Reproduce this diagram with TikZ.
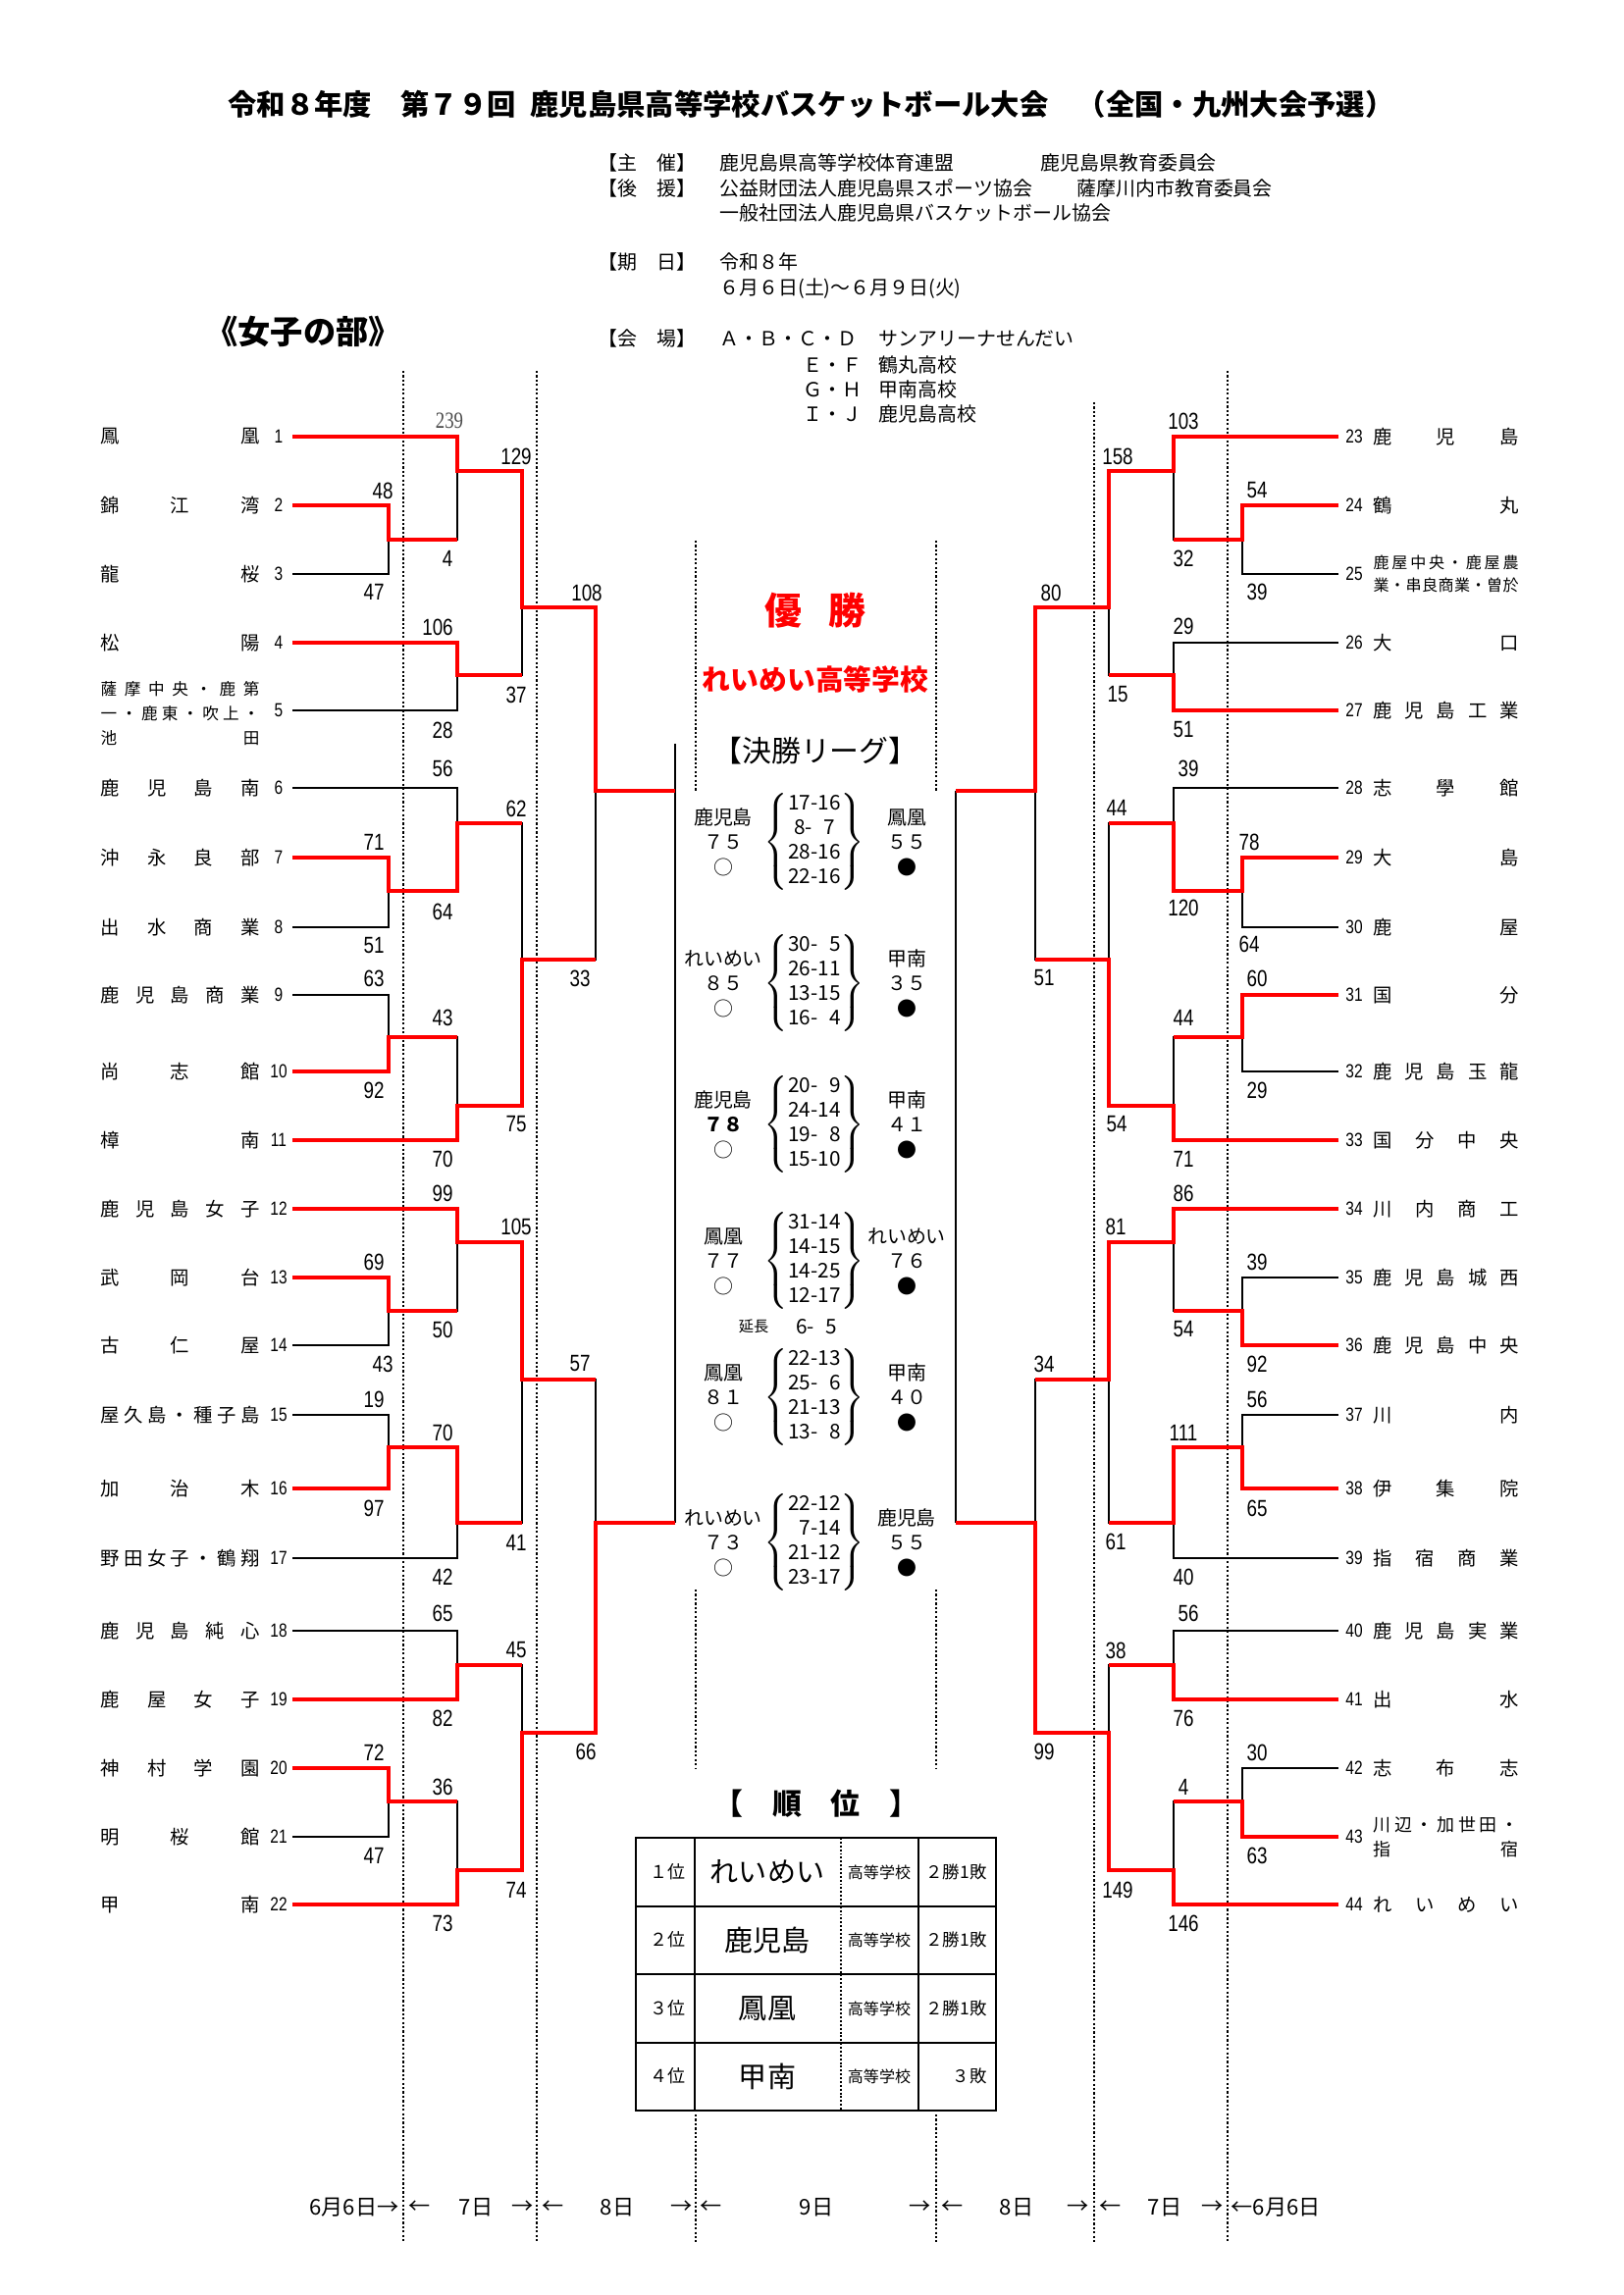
\documentclass[tikz,border=0pt]{standalone}
\usepackage{fontspec}
\setmainfont{Noto Sans CJK JP}
\newfontfamily\narrowfont[FakeStretch=0.8]{Liberation Sans}
\newfontfamily\narrowserif[FakeStretch=0.8]{Liberation Serif}
\newlength\pxu
\setlength\pxu{0.127mm}
% spread the characters of a name over its box
\makeatletter
\def\sprd#1{\expandafter\sprd@a#1\relax}
\def\sprd@a#1{#1\sprd@b}
\def\sprd@b#1{\ifx\relax#1\else\hfill#1\expandafter\sprd@b\fi}
\makeatother

\begin{document}
\begin{tikzpicture}[x=0.127mm, y=-0.127mm,
    lose/.style={line width=0.55pt},
    win/.style={red, line width=1.35pt},
    dayline/.style={line width=0.9pt, dash pattern=on 0.8pt off 0.8pt},
    score/.style={inner sep=0pt, font=\narrowfont\fontsize{8.5}{9}\selectfont},
    teamno/.style={inner sep=0pt, font=\narrowfont\fontsize{7}{8}\selectfont},
    teamname/.style={anchor=west, inner sep=0pt, font=\fontsize{7}{8}\selectfont},
    hdr/.style={anchor=west, inner sep=0pt, font=\fontsize{7.2}{8}\selectfont},
    lg/.style={inner sep=0pt, font=\fontsize{7.2}{8}\selectfont},
    qtr/.style={inner sep=0pt, font=\fontsize{7.5}{9}\selectfont},
    tbl/.style={line width=0.7pt},
    foot/.style={inner sep=0pt, font=\fontsize{8}{9}\selectfont}]

	% page
	\fill[white] (0,0) rectangle (1654,2339);
	\useasboundingbox (0,0) rectangle (1654,2339);

	% --- HEADER ---
	\node[anchor=west, inner sep=0pt, font=\bfseries\fontsize{10.6}{12}\selectfont] (title) at (232,106)
		{令和８年度　第７９回\enspace 鹿児島県高等学校バスケットボール大会　（全国・九州大会予選）};
	\node[hdr] (kw1) at (609,166) {【主　催】};
	\node[hdr] at (733,166) {鹿児島県高等学校体育連盟};
	\node[hdr] at (1060,166) {鹿児島県教育委員会};
	\node[hdr] (kw2) at (609,192) {【後　援】};
	\node[hdr] at (733,192) {公益財団法人鹿児島県スポーツ協会};
	\node[hdr] at (1097,192) {薩摩川内市教育委員会};
	\node[hdr] at (733,217) {一般社団法人鹿児島県バスケットボール協会};
	\node[hdr] (kw3) at (609,267) {【期　日】};
	\node[hdr] at (733,267) {令和８年};
	\node[hdr] at (733,294) {６月６日(土)～６月９日(火)};
	\node[hdr] (kw4) at (609,345) {【会　場】};
	\node[hdr] at (733,345) {Ａ・Ｂ・Ｃ・Ｄ};
	\node[hdr] at (895,345) {サンアリーナせんだい};
	\node[hdr] at (818,372) {Ｅ・Ｆ};
	\node[hdr] at (895,372) {鶴丸高校};
	\node[hdr] at (818,397) {Ｇ・Ｈ};
	\node[hdr] at (895,397) {甲南高校};
	\node[hdr] at (818,422) {Ｉ・Ｊ};
	\node[hdr] at (895,422) {鹿児島高校};
	\node[anchor=west, inner sep=0pt, font=\bfseries\fontsize{12}{14}\selectfont] (part) at (209,338) {《女子の部》};

	% --- DAY LINES ---
	\foreach \x in {411,547,1251} \draw[dayline] (\x,378) -- (\x,2285);
	\draw[dayline] (1115,410) -- (1115,2285);
	\foreach \x in {709,954} {
		\draw[dayline] (\x,551) -- (\x,806);
		\draw[dayline] (\x,1620) -- (\x,1803);
		\draw[dayline] (\x,2155) -- (\x,2285);
	}

	% --- TEAMS ---
	\foreach \i/\y in {1/445,2/515,3/585,4/655,5/724,6/803,7/874,8/945,9/1014,10/1092,11/1162,
		12/1232,13/1302,14/1371,15/1442,16/1517,17/1588,18/1662,19/1732,20/1802,21/1872,22/1941} {
		\node[teamno] (no\i) at (284,\y) {\i};
		\coordinate (t\i) at (298,\y);
	}
	\foreach \i/\y in {23/445,24/515,25/585,26/655,27/724,28/803,29/874,30/945,31/1014,32/1092,33/1162,
		34/1232,35/1302,36/1371,37/1442,38/1517,39/1588,40/1662,41/1732,42/1802,43/1872,44/1941} {
		\node[teamno] (no\i) at (1380,\y) {\i};
		\coordinate (t\i) at (1364,\y);
	}
	\foreach \i/\y/\nm in {1/445/鳳凰,2/515/錦江湾,3/585/龍桜,4/655/松陽,6/803/鹿児島南,7/874/沖永良部,
		8/945/出水商業,9/1014/鹿児島商業,10/1092/尚志館,11/1162/樟南,12/1232/鹿児島女子,13/1302/武岡台,
		14/1371/古仁屋,15/1442/屋久島・種子島,16/1517/加治木,17/1588/野田女子・鶴翔,18/1662/鹿児島純心,
		19/1732/鹿屋女子,20/1802/神村学園,21/1872/明桜館,22/1941/甲南}
		\node[teamname] (nm\i) at (102,\y) {\makebox[162\pxu]{\sprd{\nm}}};
	\foreach \i/\y/\nm in {23/445/鹿児島,24/515/鶴丸,26/655/大口,27/724/鹿児島工業,28/803/志學館,29/874/大島,
		30/945/鹿屋,31/1014/国分,32/1092/鹿児島玉龍,33/1162/国分中央,34/1232/川内商工,35/1302/鹿児島城西,
		36/1371/鹿児島中央,37/1442/川内,38/1517/伊集院,39/1588/指宿商業,40/1662/鹿児島実業,41/1732/出水,
		42/1802/志布志,44/1941/れいめい}
		\node[teamname] (nm\i) at (1399,\y) {\makebox[148\pxu]{\sprd{\nm}}};
	\node[teamname, align=left, font=\fontsize{6}{9}\selectfont] (nm5) at (102,727)
		{\makebox[162\pxu]{\sprd{薩摩中央・鹿第}}\\\makebox[162\pxu]{\sprd{一・鹿東・吹上・}}\\\makebox[162\pxu]{\sprd{池田}}};
	\node[teamname, align=left, font=\fontsize{5.8}{8.6}\selectfont] (nm25) at (1399,585)
		{\makebox[148\pxu]{\sprd{鹿屋中央・鹿屋農}}\\\makebox[148\pxu]{\sprd{業・串良商業・曽於}}};
	\node[teamname, align=left, font=\fontsize{6.5}{9}\selectfont] (nm43) at (1399,1872)
		{\makebox[148\pxu]{\sprd{川辺・加世田・}}\\\makebox[148\pxu]{\sprd{指宿}}};

	% --- MATCH POINTS (left a, mirrored right b) ---
	\foreach \k/\x/\y in {1/396/550,2/466/480,3/466/688,4/532/619,5/396/908,6/466/839,7/396/1057,
		8/466/1127,9/532/978,10/607/806,11/396/1336,12/466/1266,13/396/1475,14/466/1552,15/532/1406,
		16/466/1697,17/396/1836,18/466/1906,19/532/1766,20/607/1552} {
		\coordinate (a\k) at (\x,\y);
		\coordinate (b\k) at (1662-\x,\y);
	}
	\coordinate (lf) at (688,758);
	\coordinate (rf) at (974,806);

	% bracket lines
	\foreach \s/\m in {t2/a1,t3/a1,t1/a2,a1/a2,t4/a3,t5/a3,a2/a4,a3/a4,t7/a5,t8/a5,t6/a6,a5/a6,
		t9/a7,t10/a7,a7/a8,t11/a8,a6/a9,a8/a9,a4/a10,a9/a10,t13/a11,t14/a11,t12/a12,a11/a12,
		t15/a13,t16/a13,a13/a14,t17/a14,a12/a15,a14/a15,t18/a16,t19/a16,t20/a17,t21/a17,
		a17/a18,t22/a18,a16/a19,a18/a19,a15/a20,a19/a20,
		t24/b1,t25/b1,t23/b2,b1/b2,t26/b3,t27/b3,b2/b4,b3/b4,t29/b5,t30/b5,t28/b6,b5/b6,
		t31/b7,t32/b7,b7/b8,t33/b8,b6/b9,b8/b9,b4/b10,b9/b10,t35/b11,t36/b11,t34/b12,b11/b12,
		t37/b13,t38/b13,b13/b14,t39/b14,b12/b15,b14/b15,t40/b16,t41/b16,t42/b17,t43/b17,
		b17/b18,t44/b18,b16/b19,b18/b19,b15/b20,b19/b20}
		\draw[lose] (\s) -| (\m);
	\draw[lose] (lf) -- (lf |- a20);
	\draw[lose] (rf) -- (rf |- b20);

	% winners, left
	\draw[win] (t1) -| (a2) -| (a4) -| (a10) -- (a10 -| lf);
	\draw[win] (t2) -| (a1) -- (a1 -| a2);
	\draw[win] (t4) -| (a3) -- (a3 -| a4);
	\draw[win] (t7) -| (a5) -| (a6) -- (a6 -| a9);
	\draw[win] (t10) -| (a7) -- (a7 -| a8);
	\draw[win] (t11) -| (a8) -| (a9) -- (a9 -| a10);
	\draw[win] (t12) -| (a12) -| (a15) -- (a15 -| a20);
	\draw[win] (t13) -| (a11) -- (a11 -| a12);
	\draw[win] (t16) -| (a13) -| (a14) -- (a14 -| a15);
	\draw[win] (t19) -| (a16) -- (a16 -| a19);
	\draw[win] (t20) -| (a17) -- (a17 -| a18);
	\draw[win] (t22) -| (a18) -| (a19) -| (a20) -- (a20 -| lf);
	% winners, right
	\draw[win] (t23) -| (b2) -| (b4) -| (b10) -- (b10 -| rf);
	\draw[win] (t24) -| (b1) -- (b1 -| b2);
	\draw[win] (t27) -| (b3) -- (b3 -| b4);
	\draw[win] (t29) -| (b5) -| (b6) -- (b6 -| b9);
	\draw[win] (t31) -| (b7) -- (b7 -| b8);
	\draw[win] (t33) -| (b8) -| (b9) -- (b9 -| b10);
	\draw[win] (t34) -| (b12) -| (b15) -- (b15 -| b20);
	\draw[win] (t36) -| (b11) -- (b11 -| b12);
	\draw[win] (t38) -| (b13) -| (b14) -- (b14 -| b15);
	\draw[win] (t41) -| (b16) -- (b16 -| b19);
	\draw[win] (t43) -| (b17) -- (b17 -| b18);
	\draw[win] (t44) -| (b18) -| (b19) -| (b20) -- (b20 -| rf);

	% scores
	\node[score, font=\narrowserif\fontsize{8.5}{9}\selectfont, text=black!70] (s0) at (458,429) {239};
	\foreach \x/\y/\s [count=\k] in {390/500/48,381/603/47,456/569/4,526/465/129,446/639/106,451/744/28,
		526/708/37,598/604/108,451/783/56,381/858/71,381/964/51,451/929/64,526/824/62,381/997/63,
		381/1111/92,451/1037/43,451/1181/70,526/1146/75,591/997/33,451/1216/99,381/1286/69,390/1390/43,
		451/1355/50,526/1250/105,381/1426/19,381/1537/97,451/1460/70,451/1607/42,526/1572/41,591/1390/57,
		451/1644/65,451/1751/82,381/1786/72,381/1891/47,451/1821/36,451/1960/73,526/1682/45,526/1926/74,
		597/1785/66,
		1206/429/103,1281/500/54,1281/603/39,1206/569/32,1139/465/158,1206/638/29,1206/744/51,1139/708/15,
		1071/604/80,1211/783/39,1273/858/78,1273/962/64,1206/925/120,1138/823/44,1281/997/60,1281/1111/29,
		1206/1037/44,1206/1181/71,1138/1146/54,1064/997/51,1206/1216/86,1281/1286/39,1281/1390/92,
		1206/1355/54,1137/1250/81,1281/1426/56,1281/1537/65,1206/1460/111,1206/1607/40,1137/1571/61,
		1064/1390/34,1211/1644/56,1206/1751/76,1281/1786/30,1281/1891/63,1206/1821/4,1206/1960/146,
		1137/1682/38,1139/1926/149,1064/1785/99}
		\node[score] (s\k) at (\x,\y) {\s};

	% --- CENTRE ---
	\node[red, inner sep=0pt, font=\bfseries\fontsize{13.7}{15}\selectfont] (yusho) at (831,622) {優\hspace{0.7em}勝};
	\node[red, inner sep=0pt, font=\bfseries\fontsize{10.4}{12}\selectfont] (champ) at (831,692) {れいめい高等学校};
	\node[inner sep=0pt, font=\fontsize{10.8}{12}\selectfont] (league) at (831,765) {【決勝リーグ】};

	\foreach \cy/\tA/\sA/\tB/\sB/\q [count=\k] in {
		858/鹿児島/７５/鳳凰/５５/{17-16\\8-\phantom{0}7\\28-16\\22-16},
		1002/れいめい/８５/甲南/３５/{30-\phantom{0}5\\26-11\\13-15\\16-\phantom{0}4},
		1146/鹿児島/{\bfseries ７８}/甲南/４１/{20-\phantom{0}9\\24-14\\19-\phantom{0}8\\15-10},
		1285/鳳凰/７７/れいめい/７６/{31-14\\14-15\\14-25\\12-17},
		1424/鳳凰/８１/甲南/４０/{22-13\\25-\phantom{0}6\\21-13\\13-\phantom{0}8},
		1572/れいめい/７３/鹿児島/５５/{22-12\\\phantom{0}7-14\\21-12\\23-17}} {
		\node[lg] (gla\k) at (737,\cy-25) {\tA};
		\node[lg] (glb\k) at (737,\cy) {\sA};
		\node[lg] (glc\k) at (737,\cy+26) {○};
		\node[lg] (gra\k) at (924,\cy-25) {\tB};
		\node[lg] (grb\k) at (924,\cy) {\sB};
		\node[lg] (grc\k) at (924,\cy+26) {●};
		\node[qtr] (gq\k) at (830,\cy) {$\left\{\begin{tabular}{@{}c@{}}\q\end{tabular}\right\}$};
	}
	\node[inner sep=0pt, font=\fontsize{5.5}{6}\selectfont] (ot) at (768,1352) {延長};
	\node[qtr] (ots) at (832,1352) {6-\phantom{0}5};

	% --- RANKING ---
	\node[inner sep=0pt, font=\bfseries\fontsize{10.8}{12}\selectfont] (rtitle) at (832,1838) {【　順　位　】};
	\draw[tbl] (648,1873) rectangle (1015,2151);
	\foreach \y in {1943,2012,2082} \draw[tbl] (648,\y) -- (1015,\y);
	\foreach \x in {708,936} \draw[tbl] (\x,1873) -- (\x,2151);
	\draw[line width=0.7pt, dash pattern=on 0.7pt off 0.7pt] (857,1873) -- (857,2151);
	\foreach \rk/\y/\nm/\res [count=\k] in {１位/1908/れいめい/２勝1敗,２位/1977/鹿児島/２勝1敗,
		３位/2047/鳳凰/２勝1敗,４位/2116/甲南/３敗} {
		\node[inner sep=0pt, font=\fontsize{6.5}{8}\selectfont] (pos\k) at (680,\y) {\rk};
		\node[inner sep=0pt, font=\fontsize{10.5}{12}\selectfont] (win\k) at (782,\y) {\nm};
		\node[inner sep=0pt, font=\fontsize{5.8}{7}\selectfont] (hs\k) at (896,\y) {高等学校};
		\node[inner sep=0pt, anchor=east, font=\fontsize{6.3}{8}\selectfont] (rec\k) at (1006,\y) {\res};
	}

	% --- DAYS ---
	\node[foot, anchor=east] (d1) at (407,2250) {6月6日→};
	\node[foot, anchor=west] (d2) at (416,2250) {←};
	\node[foot] (d3) at (485,2250) {7日};
	\node[foot, anchor=east] (d4) at (544,2250) {→};
	\node[foot, anchor=west] (d5) at (552,2250) {←};
	\node[foot] (d6) at (629,2250) {8日};
	\node[foot, anchor=east] (d7) at (706,2250) {→};
	\node[foot, anchor=west] (d8) at (713,2250) {←};
	\node[foot] (d9) at (832,2250) {9日};
	\node[foot, anchor=east] (d10) at (949,2250) {→};
	\node[foot, anchor=west] (d11) at (959,2250) {←};
	\node[foot] (d12) at (1036,2250) {8日};
	\node[foot, anchor=east] (d13) at (1110,2250) {→};
	\node[foot, anchor=west] (d14) at (1120,2250) {←};
	\node[foot] (d15) at (1187,2250) {7日};
	\node[foot, anchor=east] (d16) at (1247,2250) {→};
	\node[foot, anchor=west] (d17) at (1254,2250) {←6月6日};

\end{tikzpicture}
\end{document}
